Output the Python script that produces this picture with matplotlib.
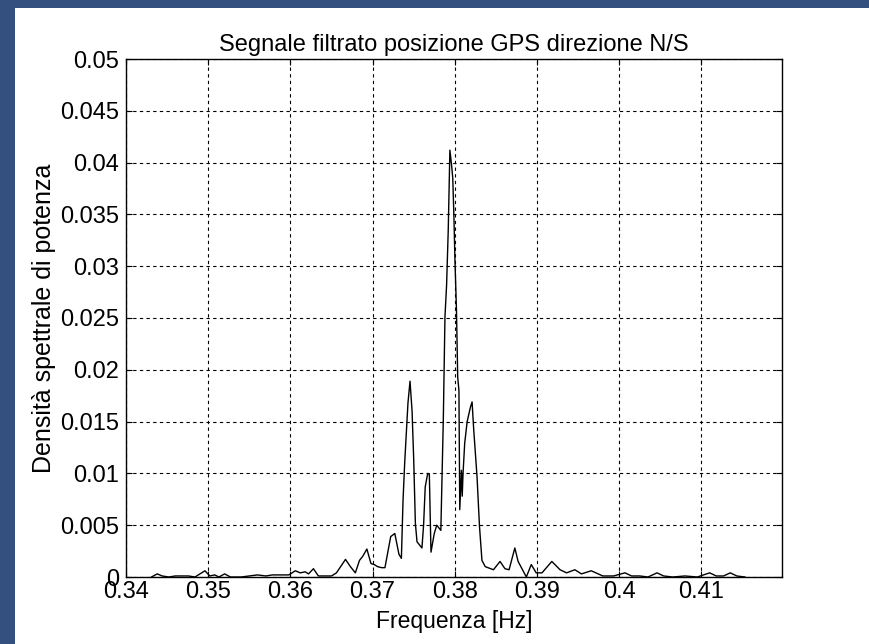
import numpy as np
import matplotlib.pyplot as plt
from matplotlib.patches import Rectangle

# frequency [Hz] and power spectral density
freq = [0.3431, 0.3438, 0.3444, 0.3452, 0.3460, 0.3468, 0.3476, 0.3484, 0.3490, 0.3496,
        0.3502, 0.3508, 0.3513, 0.3520, 0.3527, 0.3540, 0.3550, 0.3560, 0.3570, 0.3578,
        0.3588, 0.3598, 0.3606, 0.3612, 0.3618, 0.3622, 0.3628, 0.3634, 0.3642, 0.3650,
        0.3656, 0.3667, 0.3673, 0.3679, 0.3684, 0.3688, 0.3693, 0.3698, 0.3702, 0.3706,
        0.3711, 0.3715, 0.3722, 0.3727, 0.3732, 0.3735, 0.3737, 0.3739, 0.3743, 0.37455,
        0.3748, 0.3750, 0.3752, 0.3754, 0.3760, 0.3762, 0.3764, 0.3767, 0.3769, 0.3771,
        0.3775, 0.3778, 0.3783, 0.3784, 0.3786, 0.3788, 0.3790, 0.3792, 0.3794, 0.3796,
        0.37975, 0.3799, 0.3800, 0.3802, 0.38035, 0.3805, 0.3806, 0.3808, 0.3809, 0.3810,
        0.3812, 0.3815, 0.3819, 0.3821, 0.3823, 0.3827, 0.3830, 0.3833, 0.3837, 0.3847,
        0.3855, 0.3861, 0.3866, 0.3873, 0.3877, 0.3887, 0.3893, 0.3899, 0.3906, 0.3918,
        0.3928, 0.3936, 0.3946, 0.3954, 0.3966, 0.3980, 0.3993, 0.4007, 0.4015, 0.4025,
        0.4035, 0.4046, 0.4054, 0.4065, 0.4080, 0.4095, 0.4110, 0.4118, 0.4127, 0.4135,
        0.4143, 0.4153]
psd = [0.0000, 0.0003, 0.0001, 0.0000, 0.0001, 0.0001, 0.0001, 0.0000, 0.0003, 0.0006,
       0.0001, 0.0002, 0.0000, 0.0003, 0.0000, 0.0000, 0.0001, 0.0002, 0.0001, 0.0002,
       0.0002, 0.0002, 0.0006, 0.0004, 0.0005, 0.0003, 0.0008, 0.0001, 0.0001, 0.0001,
       0.0004, 0.0017, 0.0010, 0.0004, 0.0016, 0.0020, 0.0027, 0.0013, 0.0012, 0.0010,
       0.0009, 0.0009, 0.0039, 0.0042, 0.0022, 0.0018, 0.0074, 0.0110, 0.0168, 0.0189,
       0.0160, 0.0113, 0.0052, 0.0034, 0.0028, 0.0050, 0.0087, 0.0100, 0.0099, 0.0024,
       0.0042, 0.0050, 0.0045, 0.0081, 0.0152, 0.0251, 0.0282, 0.0335, 0.0412, 0.0398,
       0.0385, 0.0345, 0.0310, 0.0258, 0.0193, 0.0180, 0.0065, 0.0103, 0.0078, 0.0100,
       0.0129, 0.0150, 0.0164, 0.0169, 0.0142, 0.0097, 0.0049, 0.0016, 0.0010, 0.0007,
       0.0015, 0.0008, 0.0007, 0.0028, 0.0015, 0.0000, 0.0012, 0.0004, 0.0004, 0.0015,
       0.0007, 0.0004, 0.0007, 0.0003, 0.0006, 0.0001, 0.0001, 0.0004, 0.0001, 0.0001,
       0.0000, 0.0004, 0.0001, 0.0000, 0.0001, 0.0000, 0.0004, 0.0001, 0.0001, 0.0004,
       0.0001, 0.0000]

xticks = [0.34, 0.35, 0.36, 0.37, 0.38, 0.39, 0.40, 0.41]
yticks = [0, 0.005, 0.01, 0.015, 0.02, 0.025, 0.03, 0.035, 0.04, 0.045, 0.05]

plt.rcParams['font.family'] = 'Liberation Sans'

fig = plt.figure(figsize=(8.7, 6.44), dpi=100, facecolor='#33507f')
# white slide panel behind the axes
fig.patches.append(Rectangle((15 / 870, 0), 1, (644 - 8) / 644,
                             transform=fig.transFigure, facecolor='white',
                             edgecolor='none', zorder=-10))

ax = fig.add_axes([126 / 870, 1 - 577 / 644, 656 / 870, 518 / 644])
ax.set_zorder(5)
ax.plot(freq, psd, color='black', linewidth=1.0)

ax.set_xlim(0.34, 0.4198)
ax.set_ylim(0, 0.05)
ax.set_xticks(xticks)
ax.set_xticklabels(['%g' % t for t in xticks])
ax.set_yticks(yticks)
ax.set_yticklabels(['%g' % t for t in yticks])
ax.tick_params(direction='in', length=4, labelsize=17, top=True, right=True,
               width=0.8)
ax.tick_params(axis='x', pad=3)
ax.tick_params(axis='y', pad=5)
ax.grid(True, color='black', linestyle=(0, (3, 3)), linewidth=0.8)
for s in ax.spines.values():
    s.set_linewidth(1.0)

ax.set_title('Segnale filtrato posizione GPS direzione N/S', fontsize=17, pad=6)
ax.set_xlabel('Frequenza [Hz]', fontsize=16.5, labelpad=5)
ax.set_ylabel('Densità spettrale di potenza', fontsize=18, labelpad=3)

fig.savefig('out.png', dpi=100, facecolor=fig.get_facecolor())
